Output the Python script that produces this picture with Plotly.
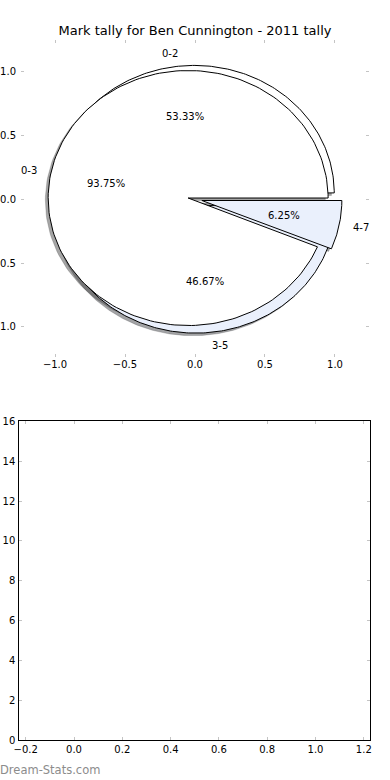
import numpy as np
import plotly.graph_objects as go

# ---------------- data ----------------
title_text = "Mark tally for Ben Cunnington - 2011 tally"
pie1_labels = ["0-2", "3-5"]
pie1_values = [8, 7]
pie2_labels = ["0-3", "4-7"]
pie2_values = [15, 1]
slice_colors = ["#ffffff", "#eaf0fc"]
top_ticks = [-1.0, -0.5, 0.0, 0.5, 1.0]
bottom_xticks = [-0.2, 0.0, 0.2, 0.4, 0.6, 0.8, 1.0, 1.2]
bottom_yticks = [0, 2, 4, 6, 8, 10, 12, 14, 16]
bottom_values = []  # the lower panel is empty
watermark = "Dream-Stats.com"

# ---------------- style ----------------
EXPLODE = 0.05
SHADOW_OFF = -0.02
FONT = "DejaVu Sans"
W, H = 390, 780
TICKC = "#c4c4c4"


def fmt(v):
    s = f"{abs(v):.1f}"
    return ("\u2212" + s) if v < 0 else s


def wedge_geometry(values):
    vals = np.asarray(values, dtype=float)
    frac = vals / vals.sum()
    starts = np.concatenate([[0.0], np.cumsum(frac)[:-1]]) * 360.0
    ends = np.cumsum(frac) * 360.0
    out = []
    for f, a1, a2 in zip(frac, starts, ends):
        mid = np.deg2rad((a1 + a2) / 2.0)
        cx, cy = EXPLODE * np.cos(mid), EXPLODE * np.sin(mid)
        t = np.deg2rad(np.linspace(a1, a2, 200))
        xs = np.concatenate([[cx], cx + np.cos(t), [cx]])
        ys = np.concatenate([[cy], cy + np.sin(t), [cy]])
        out.append(dict(frac=f, mid=mid, cx=cx, cy=cy, xs=xs, ys=ys))
    return out


pies = [(pie1_labels, wedge_geometry(pie1_values)),
        (pie2_labels, wedge_geometry(pie2_values))]

fig = go.Figure()

# shadows first (below all wedges)
for labels, geo in pies:
    for i, g in enumerate(geo):
        col = slice_colors[i % len(slice_colors)]
        r, gg, b = int(col[1:3], 16), int(col[3:5], 16), int(col[5:7], 16)
        sc = f"rgba({int(r*0.3)},{int(gg*0.3)},{int(b*0.3)},0.5)"
        fig.add_trace(go.Scatter(x=g["xs"] + SHADOW_OFF, y=g["ys"] + SHADOW_OFF,
                                 mode="lines", fill="toself", fillcolor=sc,
                                 line=dict(color=sc, width=0.5),
                                 hoverinfo="skip", showlegend=False,
                                 xaxis="x", yaxis="y"))

# wedges
for labels, geo in pies:
    for i, g in enumerate(geo):
        col = slice_colors[i % len(slice_colors)]
        fig.add_trace(go.Scatter(x=g["xs"], y=g["ys"], mode="lines",
                                 fill="toself", fillcolor=col,
                                 line=dict(color="black", width=1),
                                 hoverinfo="skip", showlegend=False,
                                 xaxis="x", yaxis="y"))

# empty lower panel
fig.add_trace(go.Bar(x=bottom_values, y=bottom_values, xaxis="x2", yaxis="y2",
                     showlegend=False, hoverinfo="skip"))

annotations = []
for labels, geo in pies:
    for lab, g in zip(labels, geo):
        lx = g["cx"] + 1.1 * np.cos(g["mid"])
        ly = g["cy"] + 1.1 * np.sin(g["mid"])
        annotations.append(dict(x=lx, y=ly, xref="x", yref="y", text=lab,
                                showarrow=False, borderpad=0, borderwidth=0,
                                xanchor="left" if lx > 0 else "right",
                                yanchor="middle",
                                font=dict(family=FONT, size=10, color="black")))
        px = g["cx"] + 0.6 * np.cos(g["mid"])
        py = g["cy"] + 0.6 * np.sin(g["mid"])
        annotations.append(dict(x=px, y=py, xref="x", yref="y",
                                text=f"{g['frac']*100:.2f}%", showarrow=False,
                                borderpad=0, borderwidth=0,
                                xanchor="center", yanchor="middle",
                                font=dict(family=FONT, size=10, color="black")))

annotations.append(dict(x=0.0, y=1 - 770 / H, xref="paper", yref="paper",
                        text=watermark, showarrow=False, xanchor="left",
                        yanchor="middle", borderpad=0, borderwidth=0,
                        font=dict(family=FONT, size=11.5, color="#8c8c8c")))

tickfont = dict(family=FONT, size=10, color="black")
common = dict(ticks="inside", ticklen=3, tickcolor=TICKC, tickwidth=1,
              mirror="ticks", showgrid=False, zeroline=False,
              tickfont=tickfont, fixedrange=True, automargin=False)

fig.update_layout(
    width=W, height=H,
    margin=dict(l=0, r=0, t=0, b=0, pad=0),
    paper_bgcolor="white", plot_bgcolor="rgba(0,0,0,0)",
    showlegend=False,
    title=dict(text=title_text, x=0.5, xanchor="center",
               y=1 - 30 / H, yanchor="middle", automargin=False,
               font=dict(family=FONT, size=13, color="black")),
    annotations=annotations,
    xaxis=dict(domain=[21 / W, 369 / W], range=[-1.243, 1.243],
               anchor="y", tickvals=top_ticks,
               ticktext=[fmt(v) for v in top_ticks], showline=False, **common),
    yaxis=dict(domain=[1 - 357 / H, 1 - 40 / H], range=[-1.237, 1.249],
               anchor="x", tickvals=top_ticks, ticklabelstandoff=4,
               ticktext=[fmt(v) for v in top_ticks], showline=False, **common),
    xaxis2=dict(domain=[19.3 / W, 370 / W], range=[-0.2265, 1.2257],
                anchor="y2", tickvals=bottom_xticks,
                ticktext=[fmt(v) for v in bottom_xticks],
                showline=True, linecolor="black", linewidth=1, **common),
    yaxis2=dict(domain=[1 - 740.3 / H, 1 - 421.3 / H], range=[0, 16],
                anchor="x2", tickvals=bottom_yticks, ticklabelstandoff=1,
                ticktext=[str(v) for v in bottom_yticks],
                showline=True, linecolor="black", linewidth=1, **common),
)

fig.write_html("out.html", config={"displayModeBar": False},
               post_script="document.body.style.margin='0px';"
                           "document.body.style.overflow='hidden';")
